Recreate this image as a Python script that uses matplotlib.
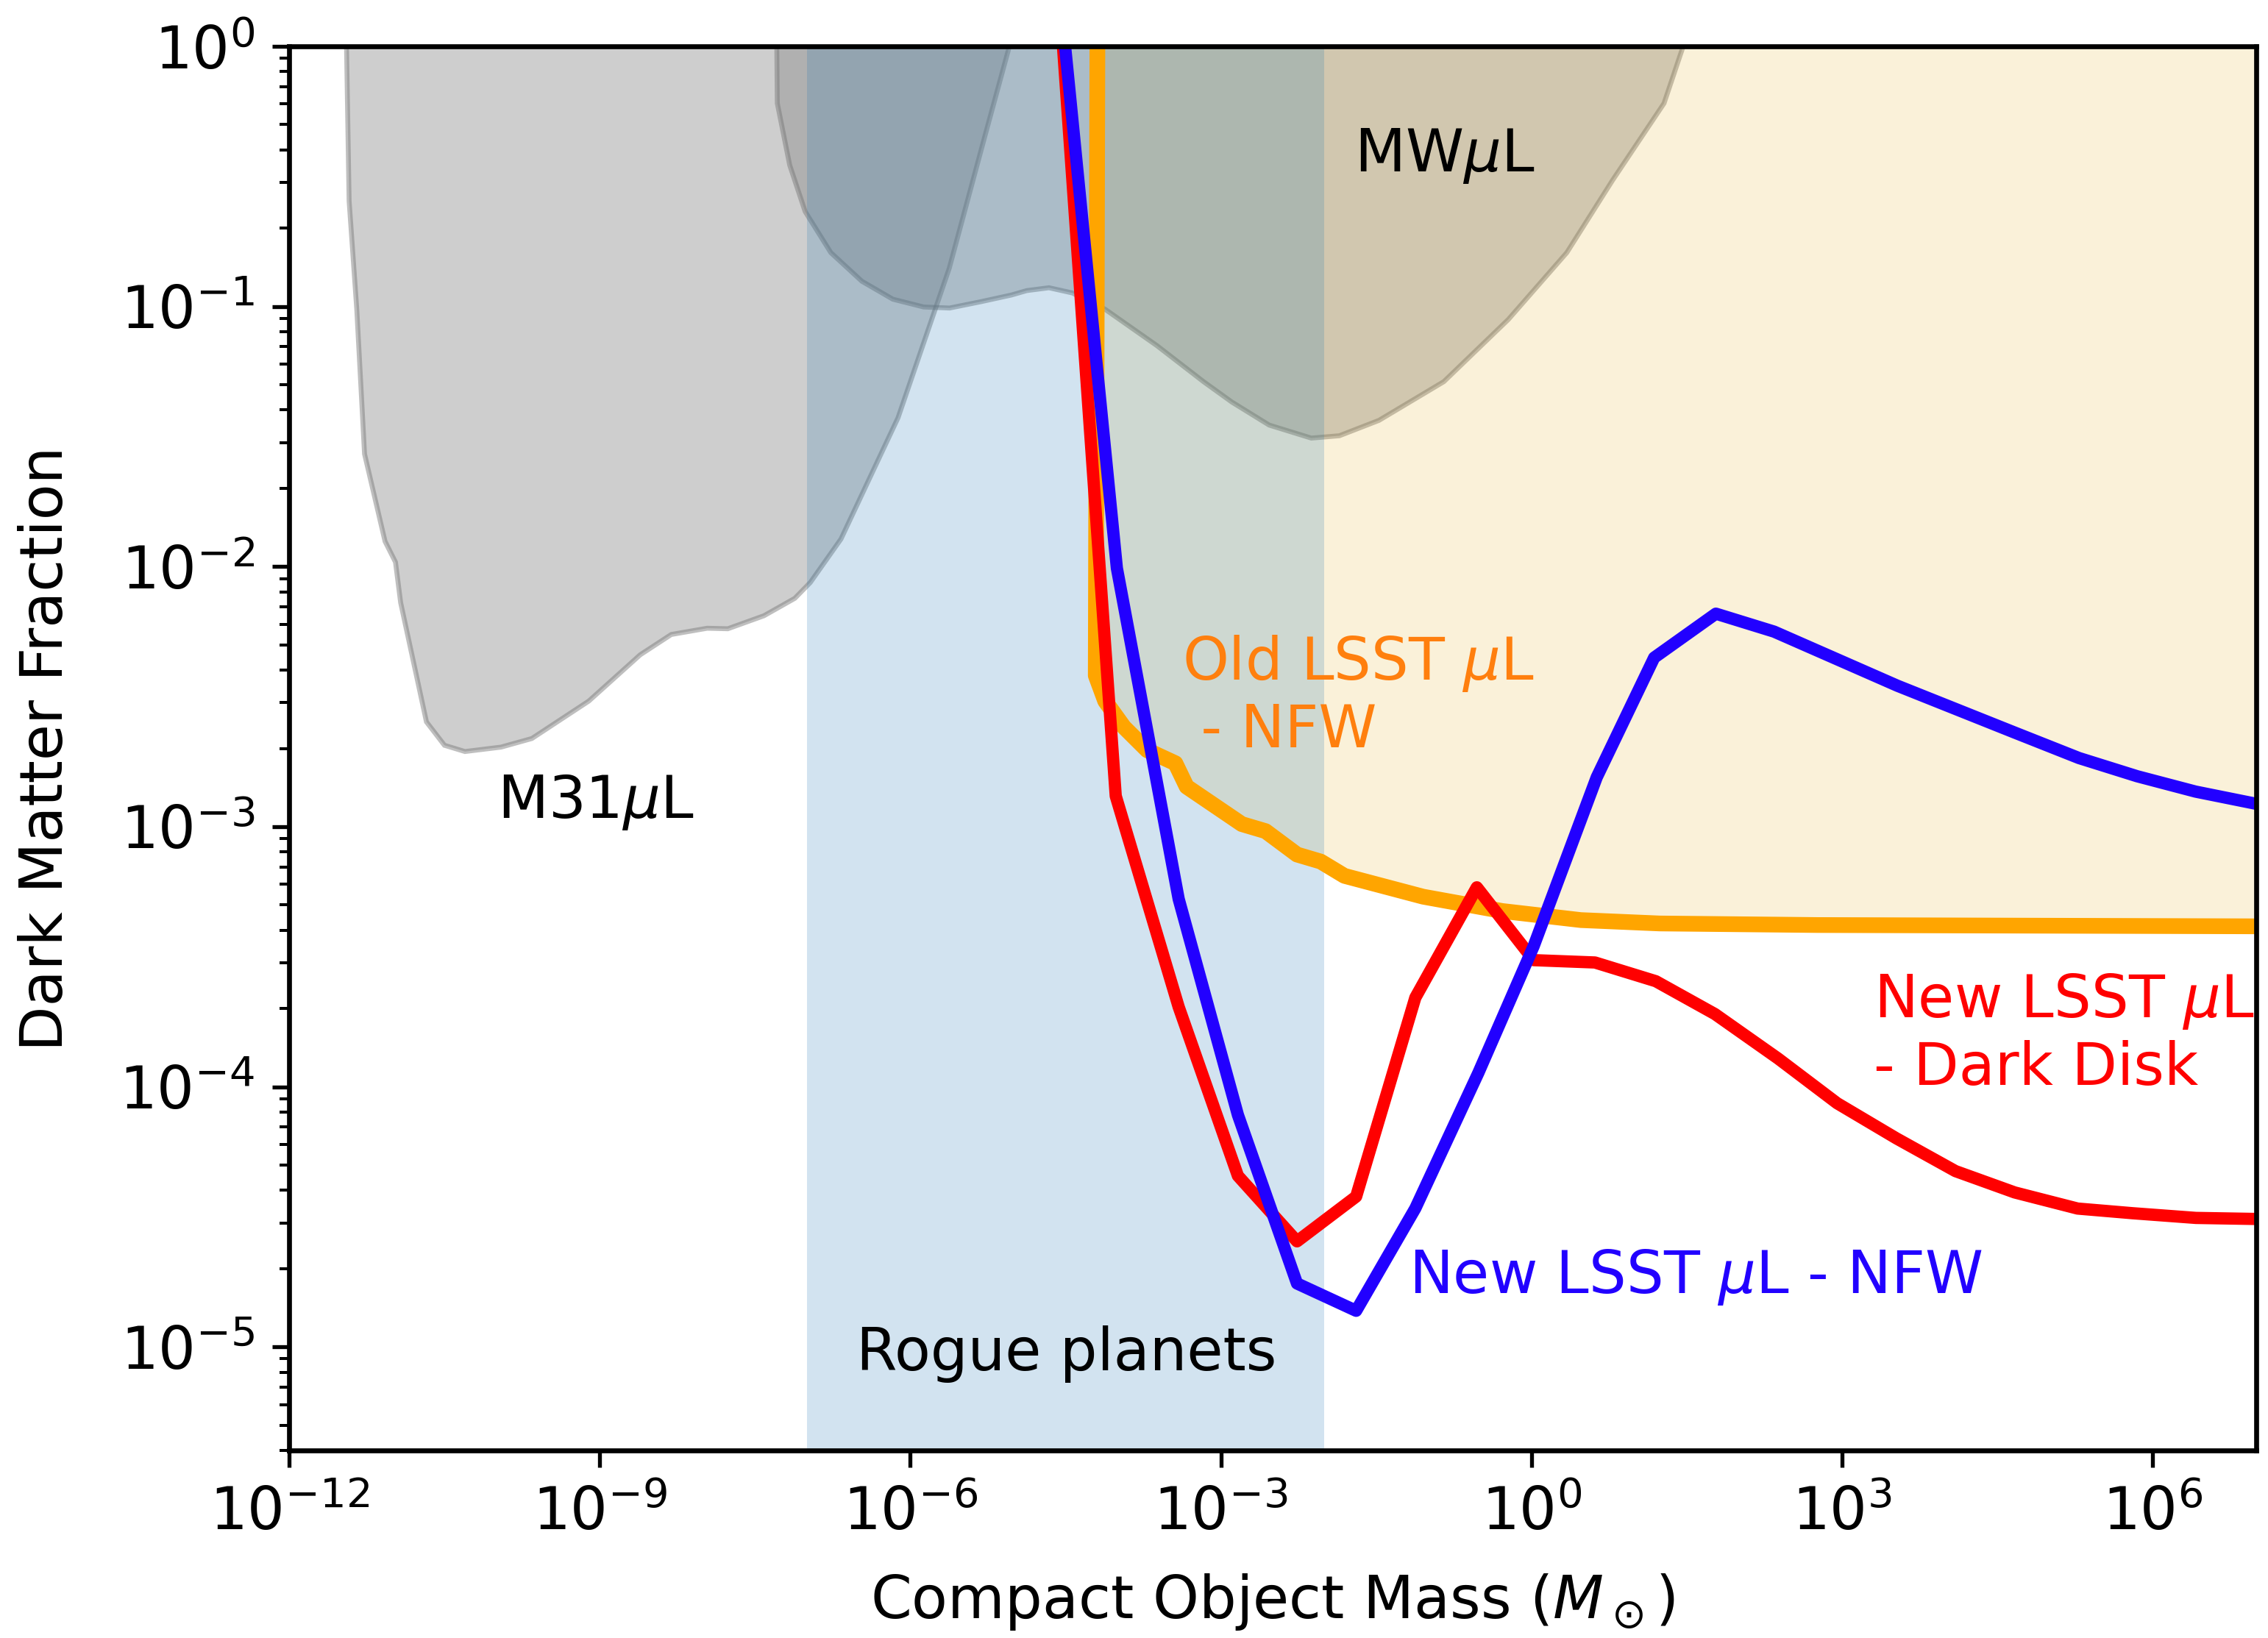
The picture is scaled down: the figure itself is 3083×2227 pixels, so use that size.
import numpy as np
import matplotlib
matplotlib.use('Agg')
import matplotlib.pyplot as plt
from matplotlib.ticker import FixedLocator, NullLocator

plt.rcParams['font.size'] = 12
plt.rcParams['axes.linewidth'] = 1.0

# all curves stored as log10(mass), log10(fraction)
m31_logm = [-11.45, -11.446, -11.421, -11.347, -11.272, -11.074, -10.973, -10.923, -10.674,
            -10.500, -10.302, -9.953, -9.656, -9.106, -8.609, -8.309, -7.962, -7.763,
            -7.414, -7.116, -6.966, -6.670, -6.119, -5.624, -5.275, -5.051, -5.02]
m31_logf = [0.5, 0.0, -0.594, -1.011, -1.567, -1.903, -1.983, -2.139, -2.597,
            -2.687, -2.711, -2.694, -2.661, -2.517, -2.339, -2.261, -2.237, -2.239,
            -2.189, -2.122, -2.061, -1.894, -1.428, -0.853, -0.338, -0.011, 0.5]

mw_logm = [-7.29, -7.29, -7.285, -7.165, -7.016, -6.768, -6.468, -6.169, -5.871, -5.621,
           -5.323, -5.024, -4.876, -4.661, -4.435, -4.118, -3.620, -3.168, -2.896,
           -2.534, -2.127, -1.856, -1.474, -0.847, -0.224, 0.341, 0.781, 1.280, 1.465, 1.52]
mw_logf = [0.5, 0.0, -0.219, -0.457, -0.635, -0.793, -0.903, -0.972, -1.002, -1.006,
           -0.982, -0.956, -0.939, -0.928, -0.948, -1.011, -1.150, -1.289, -1.367,
           -1.456, -1.506, -1.497, -1.438, -1.289, -1.050, -0.793, -0.516, -0.219, 0.0, 0.5]

old_logm = [-4.19, -4.209, -4.118, -3.937, -3.712, -3.440, -3.331, -2.798, -2.569, -2.265,
            -2.036, -1.807, -1.047, -0.285, 0.477, 1.239, 2.762, 7.0]
old_logf = [0.5, -2.419, -2.517, -2.617, -2.706, -2.756, -2.846, -2.990, -3.017, -3.107,
            -3.134, -3.189, -3.269, -3.324, -3.359, -3.372, -3.378, -3.383]

nfw_logm = [-4.6, -4.005, -3.408, -2.836, -2.265, -1.694, -1.122, -0.513, 0.021, 0.630,
            1.185, 1.781, 2.343, 3.534, 4.660, 5.288, 5.850, 6.414, 7.0]
nfw_logf = [0.38, -2.006, -3.278, -4.108, -4.756, -4.861, -4.467, -3.946, -3.459, -2.810,
            -2.350, -2.181, -2.250, -2.458, -2.637, -2.736, -2.806, -2.865, -2.912]

disk_logm = [-4.6, -4.016, -3.408, -2.836, -2.265, -1.694, -1.122, -0.528, 0.021, 0.613,
             1.201, 1.771, 2.381, 2.952, 3.524, 4.095, 4.667, 5.275, 5.809, 6.418, 7.0]
disk_logf = [0.42, -2.882, -3.693, -4.342, -4.594, -4.422, -3.657, -3.233, -3.513, -3.522,
             -3.594, -3.720, -3.891, -4.063, -4.198, -4.324, -4.406, -4.468, -4.486, -4.504, -4.508]

rogue_range = [1e-7, 1e-2]
xtick_exps = [-12, -9, -6, -3, 0, 3, 6]

fig = plt.figure(figsize=(3083 / 480, 2227 / 480), dpi=480)
ax = fig.add_subplot(111)
fig.subplots_adjust(left=0.1275, right=0.9948, bottom=0.1145, top=0.9717)

edge = (0.45, 0.45, 0.45, 0.45)
ax.fill(10 ** np.array(m31_logm), 10 ** np.array(m31_logf), facecolor='gray', alpha=None,
        edgecolor=edge, lw=1.0)
ax.patches[-1].set_facecolor((0.502, 0.502, 0.502, 0.38))
ax.fill(10 ** np.array(mw_logm), 10 ** np.array(mw_logf), facecolor='gray', alpha=None,
        edgecolor=edge, lw=1.0)
ax.patches[-1].set_facecolor((0.502, 0.502, 0.502, 0.38))

ox = 10 ** np.array(old_logm)
oy = 10 ** np.array(old_logf)
ax.fill(np.r_[ox, ox[-1], ox[0]], np.r_[oy, 10, 10], color='#e4a200', alpha=0.15, lw=0)
ax.axvspan(rogue_range[0], rogue_range[1], color='tab:blue', alpha=0.2, lw=0)

ax.plot(ox, oy, color='orange', lw=3.2)
ax.plot(10 ** np.array(disk_logm), 10 ** np.array(disk_logf), color='red', lw=2.5)
ax.plot(10 ** np.array(nfw_logm), 10 ** np.array(nfw_logf), color='#2200ff', lw=2.5)

ax.text(10 ** -9.035, 10 ** -2.906, r'M31$\mu$L', ha='center', va='center')
ax.text(10 ** -0.838, 10 ** -0.422, r'MW$\mu$L', ha='center', va='center')
ax.text(10 ** -3.377, 10 ** -2.5, 'Old LSST $\\mu$L\n - NFW', ha='left', va='center',
        color='#ff7f0e')
ax.text(10 ** 3.306, 10 ** -3.8, 'New LSST $\\mu$L\n- Dark Disk', ha='left', va='center',
        color='red')
ax.text(10 ** -1.186, 10 ** -4.733, 'New LSST $\\mu$L - NFW', ha='left', va='center',
        color='#2200ff')
ax.text(10 ** -4.493, 10 ** -5.028, 'Rogue planets', ha='center', va='center')

ax.set_xscale('log')
ax.set_yscale('log')
ax.set_xlim(1e-12, 1e7)
ax.set_ylim(4e-6, 1)
ax.xaxis.set_major_locator(FixedLocator([10.0 ** e for e in xtick_exps]))
ax.xaxis.set_minor_locator(NullLocator())
ax.set_xlabel(r'Compact Object Mass ($M_\odot$)', labelpad=6)
ax.set_ylabel('Dark Matter Fraction', labelpad=9)

fig.savefig('out.png', dpi=480)
